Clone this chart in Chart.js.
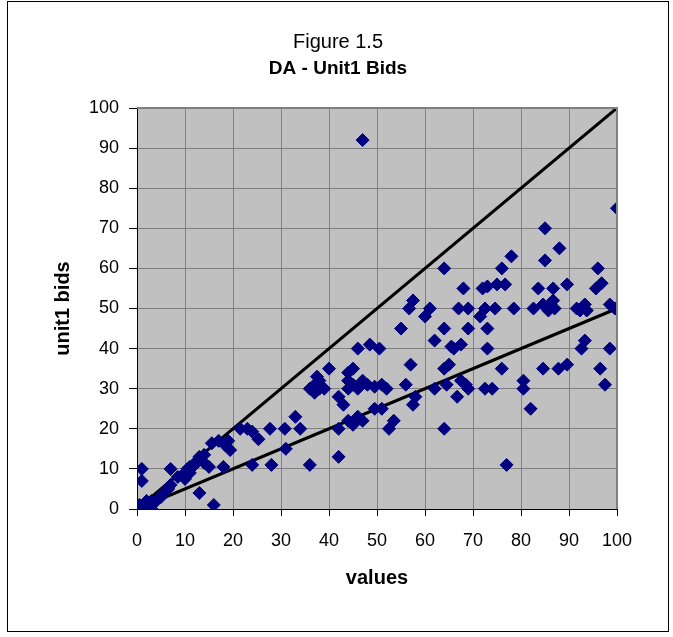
<!DOCTYPE html>
<html>
<head>
<meta charset="utf-8">
<script src="https://cdn.jsdelivr.net/npm/chart.js@4.4.1/dist/chart.umd.min.js"></script>
<style>
  html, body { margin: 0; padding: 0; background: #ffffff; }
  canvas { display: block; }
</style>
</head>
<body>
<canvas id="c" width="673" height="637"></canvas>
<script>
// ---- data ----
const chartTitle = "Figure 1.5";
const chartSubtitle = "DA - Unit1 Bids";
const xAxisTitle = "values";
const yAxisTitle = "unit1 bids";
const tickValues = [0, 10, 20, 30, 40, 50, 60, 70, 80, 90, 100];

const values = [
  0, 0.5, 1, 1.5, 2, 3, 3, 4, 2, 1, 1, 7, 5, 5.5, 6.5, 7, 8.5, 9.5, 10, 10.5,
  11, 12, 12.5, 13, 10, 11, 13, 16, 14, 15, 13, 14, 15.6, 17, 18.3, 19.4, 18, 19,
  21.5, 23, 24, 25.3, 24, 27.7, 28, 30.8, 31, 33, 34,
  36, 36, 37, 38, 37, 38, 39, 37.5, 40, 42, 43, 42, 42, 44, 45, 46, 47,
  44, 45, 44, 45, 47, 46, 44, 48, 46, 48.5, 47, 49.5, 51, 52, 50.5, 49.5, 51,
  53.5, 52.5, 55, 56, 57, 57.5, 56.7, 58, 57.5, 60, 61, 62, 62, 64, 64, 64, 65,
  64.5, 64, 65.5, 66, 67.5, 66.7, 67.5, 68.5, 69, 67, 69, 68, 69, 71.5, 72.5,
  74.6, 72, 73, 75, 76.7, 73, 73, 72.5, 74, 76, 77, 78, 76, 78.5,
  80.5, 80.5, 82, 82.6, 83.6, 84.6, 86, 85.7, 87, 86.7, 86.7, 85, 88, 85, 89.6,
  84.6, 87.8, 89.6, 91.6, 92.3, 93.3, 93.7, 93.3, 92.6, 95.6, 96.8, 96, 96.5,
  97.5, 98.5, 98.5, 99.6, 100
];
const bids = [
  0, 1, 0, 1, 0.5, 0, 2, 2, 2, 10, 7, 10, 3, 4, 5, 6, 8, 8.5, 9, 10,
  10.5, 11, 12, 12.5, 7.5, 9, 4, 1, 11.5, 10.5, 13, 13.5, 16.4, 17, 16, 14.7, 10.5, 17,
  20, 20, 19.3, 17.4, 11, 20, 11, 20, 15, 23, 20,
  11, 30, 31, 32, 29, 30, 30, 33, 35, 28, 26, 13, 20, 22, 21, 23, 22,
  34, 35, 32, 31, 32, 30, 30, 31, 40, 41, 92, 30.5, 31, 30, 40, 25, 25,
  22, 20, 45, 31, 36, 52, 50, 28, 26, 48, 50, 42, 30, 60, 45, 35, 36,
  31, 20, 40.5, 40, 41, 28, 32, 31, 30, 50, 50, 55, 45, 48, 50,
  50, 55, 55.5, 56, 56, 45, 40, 30, 30, 35, 11, 63, 60, 50,
  32, 30, 25, 50, 55, 51, 51, 49.5, 50, 55, 52, 70, 65, 62, 56,
  35, 35, 36, 50, 49.5, 51, 49.5, 42, 40, 55, 56.3, 60, 35,
  31, 40, 51, 50, 75
];
const refX = [0, 100];
const diagonalY = [0, 100];
const halfY = [0, 50];

// ---- build datasets from the arrays ----
const scatterPoints = values.map((v, i) => ({ x: v, y: bids[i] }));
const diagPoints = refX.map((v, i) => ({ x: v, y: diagonalY[i] }));
const halfPoints = refX.map((v, i) => ({ x: v, y: halfY[i] }));

const FONT = '"Liberation Sans", Arial, Helvetica, sans-serif';

const decorPlugin = {
  id: 'decor',
  beforeDraw(chart) {
    const { ctx, chartArea: a } = chart;
    ctx.save();
    ctx.fillStyle = '#ffffff';
    ctx.fillRect(0, 0, chart.width, chart.height);
    ctx.fillStyle = '#c0c0c0';
    ctx.fillRect(a.left, a.top, a.right - a.left, a.bottom - a.top);
    ctx.restore();
  },
  afterDraw(chart) {
    const { ctx, chartArea: a } = chart;
    ctx.save();
    // plot frame (top and right in gray)
    ctx.strokeStyle = '#808080';
    ctx.lineWidth = 2;
    ctx.beginPath();
    ctx.moveTo(a.left, a.top);
    ctx.lineTo(a.right, a.top);
    ctx.lineTo(a.right, a.bottom);
    ctx.stroke();
    // figure border
    ctx.strokeStyle = '#000000';
    ctx.lineWidth = 1;
    ctx.strokeRect(7.5, 1.5, 661, 630);
    // titles
    ctx.fillStyle = '#000000';
    ctx.textAlign = 'center';
    ctx.textBaseline = 'middle';
    ctx.font = '20px ' + FONT;
    ctx.fillText(chartTitle, 338, 42);
    ctx.font = 'bold 19px ' + FONT;
    ctx.fillText(chartSubtitle, 338, 69);
    ctx.restore();
  }
};

new Chart(document.getElementById('c'), {
  type: 'scatter',
  data: {
    datasets: [
      {
        label: 'unit1 bids',
        data: scatterPoints,
        pointStyle: 'rectRot',
        pointRadius: 6.5,
        pointHoverRadius: 6.5,
        backgroundColor: '#000080',
        borderColor: '#000080',
        borderWidth: 1,
        order: 0
      },
      {
        label: 'bid = value',
        type: 'line',
        data: diagPoints,
        borderColor: '#000000',
        borderWidth: 3,
        pointRadius: 0,
        fill: false,
        order: 1
      },
      {
        label: 'bid = value / 2',
        type: 'line',
        data: halfPoints,
        borderColor: '#000000',
        borderWidth: 3,
        pointRadius: 0,
        fill: false,
        order: 2
      }
    ]
  },
  options: {
    responsive: false,
    devicePixelRatio: 1,
    animation: false,
    events: [],
    layout: { padding: { top: 108, left: 8, right: 56, bottom: 0 } },
    plugins: {
      legend: { display: false },
      tooltip: { enabled: false },
      title: { display: false }
    },
    scales: {
      x: {
        type: 'linear',
        min: 0,
        max: 100,
        afterBuildTicks(scale) { scale.ticks = tickValues.map(v => ({ value: v })); },
        afterFit(scale) { scale.height = 128; },
        grid: { color: '#808080', lineWidth: 1, tickLength: 7, tickColor: '#000000', drawOnChartArea: true },
        border: { color: '#000000', width: 1 },
        ticks: { color: '#000000', padding: 14, maxRotation: 0, font: { family: FONT, size: 18 } },
        title: {
          display: true,
          text: xAxisTitle,
          color: '#000000',
          font: { family: FONT, size: 20, weight: 'bold' },
          padding: { top: 0, bottom: 47 }
        }
      },
      y: {
        type: 'linear',
        min: 0,
        max: 100,
        afterBuildTicks(scale) { scale.ticks = tickValues.map(v => ({ value: v })); },
        afterFit(scale) { scale.width = 129; },
        grid: { color: '#808080', lineWidth: 1, tickLength: 8, tickColor: '#000000' },
        border: { color: '#000000', width: 1 },
        ticks: { color: '#000000', padding: 10, font: { family: FONT, size: 18 } },
        title: {
          display: true,
          text: yAxisTitle,
          color: '#000000',
          font: { family: FONT, size: 20, weight: 'bold' },
          padding: { top: 43, bottom: 0 }
        }
      }
    }
  },
  plugins: [decorPlugin]
});
</script>
</body>
</html>
